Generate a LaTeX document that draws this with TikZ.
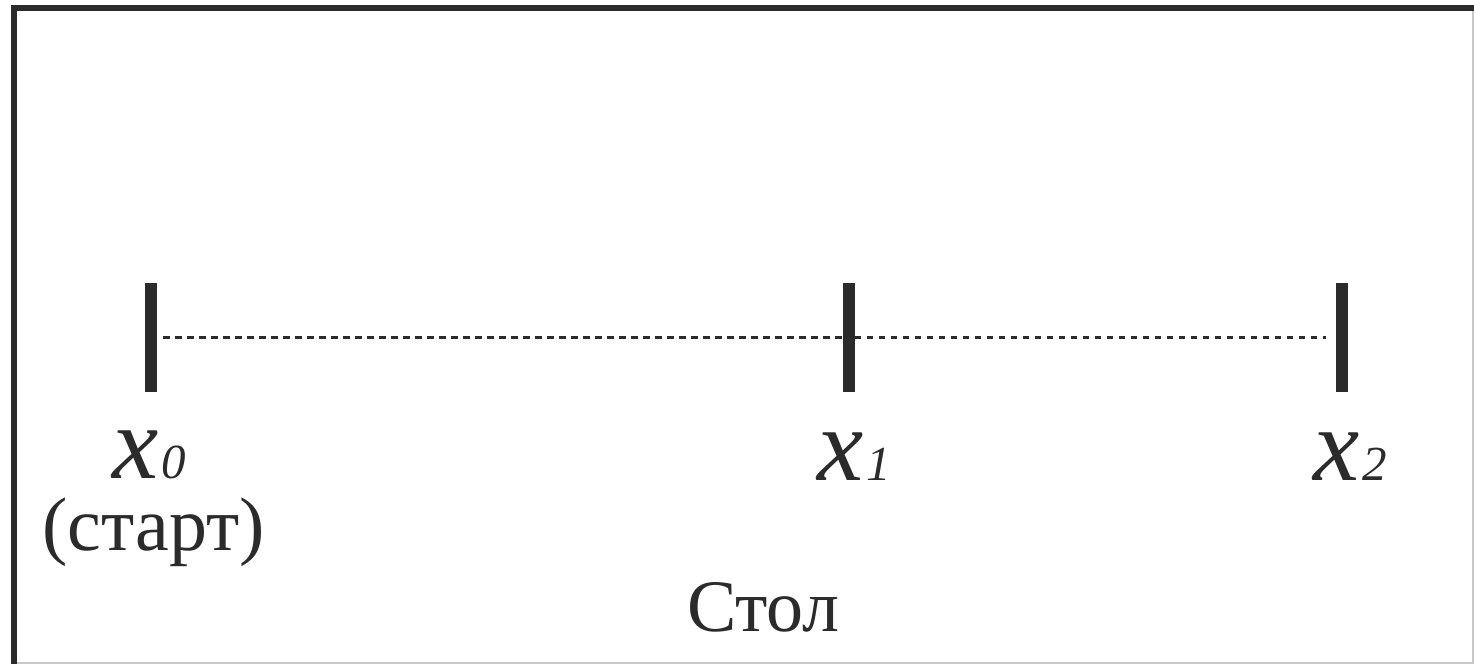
\documentclass[tikz,border=0pt]{standalone}
\usepackage{fontspec}
\setmainfont{Liberation Serif}
\definecolor{ink}{HTML}{2B2B2B}
\definecolor{edge}{HTML}{C8C8C8}
\tikzset{
  tick/.style={rectangle, fill=ink, inner sep=0pt, minimum width=6pt, minimum height=54.5pt},
  dotline/.style={draw=ink, line width=1.1pt, dash pattern=on 3.2pt off 2.8pt},
  varlabel/.style={anchor=base, inner sep=0pt, text depth=0pt, text=ink, font=\fontsize{52}{52}\selectfont\itshape},
  txt/.style={anchor=base, inner sep=0pt, text=ink, font=\fontsize{38}{38}\selectfont},
}
\newcommand{\subdig}[1]{{\fontsize{24.5}{24.5}\selectfont #1}}
\newcommand{\varx}{x\kern1.5pt}
\begin{document}
\begin{tikzpicture}[x=0.5pt, y=-0.5pt]
\useasboundingbox (0,0) rectangle (1474,664);
% frame
\draw[edge, line width=1pt] (14,663) -- (1473,663) -- (1473,8);
\draw[ink, line width=3pt] (1474,8) -- (14,8) -- (14,664);
% ticks
\node[tick] (t0) at (151,337.5) {};
\node[tick] (t1) at (848.5,337.5) {};
\node[tick] (t2) at (1342,337.5) {};
\path[dotline] ([xshift=3pt]t0.east) -- (t1.west);
\path[dotline] (t1.east) -- ([xshift=-5pt]t2.west);
% labels
\node[varlabel] (l0) at (149,478) {\varx\subdig{0}};
\node[varlabel] (l1) at (854,480) {\varx\subdig{1}};
\node[varlabel] (l2) at (1350,480) {\varx\subdig{2}};
\node[txt] (start) at (153.5,550) {(старт)};
\node[txt, font=\fontsize{37}{37}\selectfont] (table) at (763.5,631) {Стол};
\end{tikzpicture}
\end{document}
